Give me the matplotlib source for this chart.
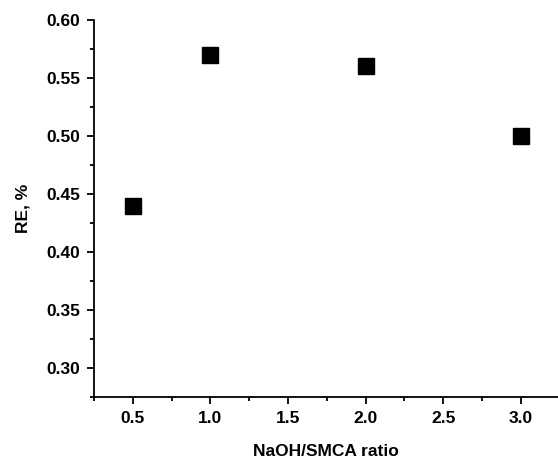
import matplotlib
matplotlib.use("Agg")
import matplotlib.pyplot as plt
from matplotlib.ticker import MultipleLocator

plt.rcParams['font.family'] = ['Liberation Sans', 'DejaVu Sans']
plt.rcParams['font.weight'] = 'bold'

# data
ratio = [0.5, 1.0, 2.0, 3.0]
re_pct = [0.44, 0.57, 0.56, 0.50]

fig = plt.figure(figsize=(5.58, 4.66), dpi=100)
ax = fig.add_axes([94 / 558, 69 / 466, 1 - 94 / 558, 377 / 466])

ax.plot(ratio, re_pct, 's', color='black', markersize=11.5, clip_on=False)

ax.set_xlim(0.25, 3.24)
ax.set_ylim(0.275, 0.60)
ax.xaxis.set_major_locator(MultipleLocator(0.5))
ax.xaxis.set_minor_locator(MultipleLocator(0.25))
ax.yaxis.set_major_locator(MultipleLocator(0.05))
ax.yaxis.set_minor_locator(MultipleLocator(0.025))
ax.xaxis.set_major_formatter(plt.FormatStrFormatter('%.1f'))
ax.yaxis.set_major_formatter(plt.FormatStrFormatter('%.2f'))

for s in ['top', 'right']:
    ax.spines[s].set_visible(False)
for s in ['left', 'bottom']:
    ax.spines[s].set_linewidth(1.3)

ax.tick_params(which='major', direction='out', length=5, width=1.3, labelsize=12.5, pad=5)
ax.tick_params(which='minor', direction='out', length=3, width=1.3)

ax.set_xlabel('NaOH/SMCA ratio', fontsize=12.5, fontweight='bold', labelpad=13)
ax.set_ylabel('RE, %', fontsize=12.5, fontweight='bold', labelpad=11)

fig.savefig('out.png', dpi=100)
